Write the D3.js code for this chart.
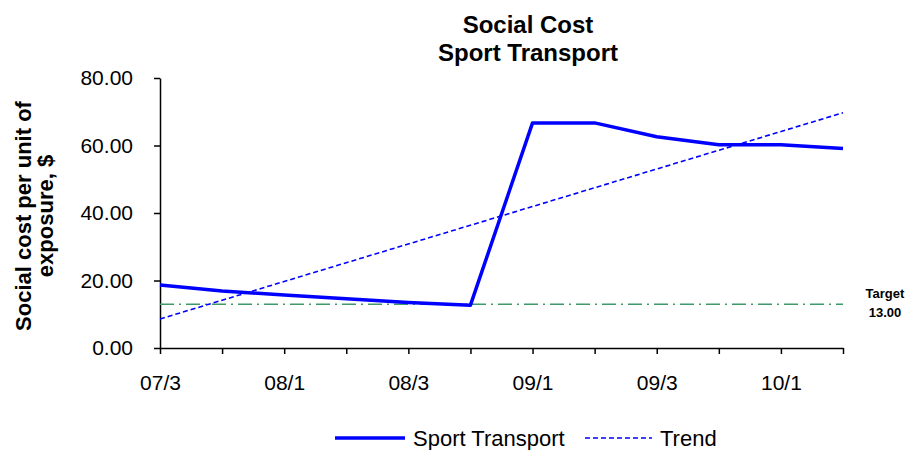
<!DOCTYPE html>
<html><head><meta charset="utf-8">
<script src="https://cdn.jsdelivr.net/npm/d3@7"></script>
<style>
body{margin:0;background:#fff;}
svg{display:block;font-family:"Liberation Sans",Arial,sans-serif;}
</style></head>
<body>
<svg id="chart" width="914" height="450"></svg>
<script>
const categories = ["07/3","07/4","08/1","08/2","08/3","08/4","09/1","09/2","09/3","09/4","10/1","10/2"];
const tickLabels = ["07/3","","08/1","","08/3","","09/1","","09/3","","10/1",""];
const sportTransport = [18.7,16.9,15.7,14.6,13.5,12.7,66.7,66.7,62.6,60.2,60.2,59.1];
const trendEnds = [8.6, 69.7];
const targetValue = 13.00;
const yTicks = [0,20,40,60,80];

(function(){
const svg = d3.select("#chart");
const pLeft = 160, pRight = 843, pTop = 78, pBottom = 348;

const x = d3.scalePoint().domain(categories).range([pLeft, pRight]);
const y = d3.scaleLinear().domain([0,80]).range([pBottom, pTop]);

// Title
svg.append("text").attr("x",528).attr("y",33).attr("text-anchor","middle")
  .attr("font-size",24).attr("font-weight","bold").text("Social Cost");
svg.append("text").attr("x",528).attr("y",61).attr("text-anchor","middle")
  .attr("font-size",24).attr("font-weight","bold").text("Sport Transport");

// Y axis
const yAxis = d3.axisLeft(y).tickValues(yTicks).tickFormat(d3.format(".2f")).tickSize(6).tickSizeOuter(0);
const gy = svg.append("g").attr("transform",`translate(${pLeft},0)`).call(yAxis);
gy.select(".domain").attr("stroke","#000").attr("stroke-width",1.5);
gy.selectAll(".tick line").attr("stroke","#000").attr("stroke-width",1.5);
gy.selectAll(".tick text").attr("font-size",21).attr("fill","#000").attr("x",-27)
  .attr("font-family","Liberation Sans, Arial, sans-serif");

// X axis
const xAxis = d3.axisBottom(x).tickFormat((d,i)=>tickLabels[i]).tickSize(6).tickSizeOuter(0);
const gx = svg.append("g").attr("transform",`translate(0,${pBottom})`).call(xAxis);
gx.select(".domain").attr("stroke","#000").attr("stroke-width",1.5);
gx.selectAll(".tick line").attr("stroke","#000").attr("stroke-width",1.5);
gx.selectAll(".tick text").attr("font-size",21).attr("fill","#000").attr("y",27)
  .attr("font-family","Liberation Sans, Arial, sans-serif");

// Y label
const yl = svg.append("text").attr("transform","translate(31,216) rotate(-90)")
  .attr("text-anchor","middle").attr("font-size",22).attr("font-weight","bold");
yl.append("tspan").attr("x",0).attr("dy",0).text("Social cost per unit of");
yl.append("tspan").attr("x",0).attr("dy",22).text("exposure, $");

// Target line
svg.append("line").attr("x1",x(categories[0])).attr("x2",x(categories[categories.length-1]))
  .attr("y1",y(targetValue)).attr("y2",y(targetValue))
  .attr("stroke","#3c9a68").attr("stroke-width",1.5).attr("stroke-dasharray","14,5,2,5");

// Trend line
svg.append("line").attr("x1",x(categories[0])).attr("x2",x(categories[categories.length-1]))
  .attr("y1",y(trendEnds[0])).attr("y2",y(trendEnds[1]))
  .attr("stroke","#0000ff").attr("stroke-width",1.6).attr("stroke-dasharray","5,3");

// Main series
const line = d3.line().x((d,i)=>x(categories[i])).y(d=>y(d));
svg.append("path").datum(sportTransport).attr("d",line).attr("fill","none")
  .attr("stroke","#0000ff").attr("stroke-width",3.5).attr("stroke-linejoin","round");

// Target label
svg.append("text").attr("x",885).attr("y",298).attr("text-anchor","middle")
  .attr("font-size",13).attr("font-weight","bold").text("Target");
svg.append("text").attr("x",885).attr("y",317).attr("text-anchor","middle")
  .attr("font-size",13).attr("font-weight","bold").text(d3.format(".2f")(targetValue));

// Legend
const lg = svg.append("g");
lg.append("line").attr("x1",335).attr("x2",405).attr("y1",438).attr("y2",438)
  .attr("stroke","#0000ff").attr("stroke-width",3.5);
lg.append("text").attr("x",413).attr("y",446).attr("font-size",22).text("Sport Transport");
lg.append("line").attr("x1",585).attr("x2",652).attr("y1",438).attr("y2",438)
  .attr("stroke","#0000ff").attr("stroke-width",1.6).attr("stroke-dasharray","5,3");
lg.append("text").attr("x",660).attr("y",446).attr("font-size",22).text("Trend");
})();
</script>
</body></html>
